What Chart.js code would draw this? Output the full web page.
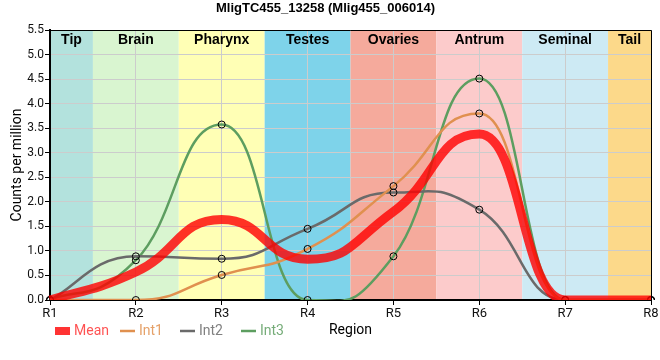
<!DOCTYPE html>
<html>
<head>
<meta charset="utf-8">
<script src="https://cdn.jsdelivr.net/npm/chart.js@4.4.0/dist/chart.umd.min.js"></script>
<style>
  body { margin: 0; background: #fff; }
  #wrap { width: 660px; height: 360px; }
</style>
</head>
<body>
<div id="wrap"><canvas id="regionChart"></canvas></div>
<script>
var regions = ["R1", "R2", "R3", "R4", "R5", "R6", "R7", "R8"];
var meanValues = [0, 0.57, 1.64, 0.83, 1.80, 3.38, 0, 0];
var int1Values = [0, 0, 0.51, 1.04, 2.32, 3.80, 0, 0];
var int2Values = [0, 0.89, 0.84, 1.45, 2.19, 1.84, 0, 0];
var int3Values = [0, 0.81, 3.575, 0, 0.89, 4.51, 0, 0];
var yTicks = [0, 0.5, 1, 1.5, 2, 2.5, 3, 3.5, 4, 4.5, 5, 5.5];

var bandNames = ["Tip", "Brain", "Pharynx", "Testes", "Ovaries", "Antrum", "Seminal", "Tail"];
var bandColors = ["#b3e2dd", "#d9f5d0", "#ffffb5", "#7ed3ea", "#f5aa9c", "#fccbcb", "#cdeaf4", "#fcd98a"];

var seriesColors = {
  mean: "rgba(255,0,0,0.8)",
  int1: "#e0904f",
  int2: "#6a6a6a",
  int3: "#5d9e60"
};

// stretch the monotone bezier handles so the curves get flatter shoulders
var ARM = 1.5;
var longArms = {
  id: "longArms",
  afterDatasetsUpdate: function(chart) {
    chart.data.datasets.forEach(function(ds, i) {
      var meta = chart.getDatasetMeta(i);
      meta.dataset.updateControlPoints(chart.chartArea, "x");
      meta.data.forEach(function(p) {
        if (p.cp1x === undefined) return;
        p.cp1x = p.x - (p.x - p.cp1x) * ARM;
        p.cp1y = p.y - (p.y - p.cp1y) * ARM;
        p.cp2x = p.x - (p.x - p.cp2x) * ARM;
        p.cp2y = p.y - (p.y - p.cp2y) * ARM;
      });
    });
  }
};

// background bands + labels, border, custom legend
var regionBands = {
  id: "regionBands",
  beforeDraw: function(chart) {
    var ctx = chart.ctx, x = chart.scales.x, area = chart.chartArea;
    ctx.save();
    for (var i = 0; i < bandNames.length; i++) {
      var x0 = Math.max(x.getPixelForValue(i - 0.5), area.left);
      var x1 = Math.min(x.getPixelForValue(i + 0.5), area.right);
      ctx.fillStyle = bandColors[i];
      ctx.fillRect(x0, area.top, x1 - x0, area.bottom - area.top);
    }
    ctx.restore();
  },
  afterDatasetsDraw: function(chart) {
    var ctx = chart.ctx, x = chart.scales.x, area = chart.chartArea;
    ctx.save();
    ctx.fillStyle = "#000";
    ctx.font = "bold 14px 'Liberation Sans', Arial, sans-serif";
    ctx.textAlign = "center";
    ctx.textBaseline = "middle";
    for (var i = 0; i < bandNames.length; i++) {
      var x0 = Math.max(x.getPixelForValue(i - 0.5), area.left);
      var x1 = Math.min(x.getPixelForValue(i + 0.5), area.right);
      ctx.fillText(bandNames[i], (x0 + x1) / 2, area.top + 10);
    }
    ctx.strokeStyle = "#000";
    ctx.lineWidth = 1;
    ctx.beginPath();
    ctx.moveTo(area.left, area.top + 0.5);
    ctx.lineTo(area.right + 0.5, area.top + 0.5);
    ctx.lineTo(area.right + 0.5, area.bottom);
    ctx.stroke();

    // legend
    var items = [
      { text: "Mean", color: seriesColors.mean, box: true, x: 55 },
      { text: "Int1", color: seriesColors.int1, box: false, x: 120 },
      { text: "Int2", color: seriesColors.int2, box: false, x: 180 },
      { text: "Int3", color: seriesColors.int3, box: false, x: 241 }
    ];
    var ly = 331;
    ctx.font = "14px Roboto, sans-serif";
    ctx.textAlign = "left";
    items.forEach(function(it) {
      if (it.box) {
        ctx.fillStyle = it.color;
        ctx.fillRect(it.x, ly - 4, 15, 8);
      } else {
        ctx.strokeStyle = it.color;
        ctx.lineWidth = 2.5;
        ctx.beginPath();
        ctx.moveTo(it.x, ly);
        ctx.lineTo(it.x + 15, ly);
        ctx.stroke();
      }
      ctx.globalAlpha = 0.85;
      ctx.fillStyle = it.color;
      ctx.fillText(it.text, it.x + 19, ly);
      ctx.globalAlpha = 1;
    });
    ctx.restore();
  }
};

var pointStyle = {
  pointRadius: 3.5,
  pointBackgroundColor: "rgba(0,0,0,0)",
  pointBorderColor: "#000",
  pointBorderWidth: 1
};

function intSet(label, values, color) {
  return Object.assign({
    label: label,
    data: values,
    borderColor: color,
    borderWidth: 2.5,
    cubicInterpolationMode: "monotone",
    fill: false
  }, pointStyle);
}

var chartCanvas = document.getElementById("regionChart");
var regionChart = new Chart(chartCanvas, {
  type: "line",
  data: {
    labels: regions,
    datasets: [
      {
        label: "Mean",
        data: meanValues,
        borderColor: seriesColors.mean,
        borderWidth: 9,
        pointRadius: 0,
        cubicInterpolationMode: "monotone",
        fill: false,
        order: 0
      },
      intSet("Int1", int1Values, seriesColors.int1),
      intSet("Int2", int2Values, seriesColors.int2),
      intSet("Int3", int3Values, seriesColors.int3)
    ]
  },
  options: {
    responsive: true,
    maintainAspectRatio: false,
    animation: false,
    layout: { padding: { right: 9 } },
    plugins: {
      legend: { display: false },
      tooltip: { enabled: false },
      title: {
        display: true,
        text: "MligTC455_13258 (Mlig455_006014)",
        color: "#000",
        font: { family: "'Liberation Sans', Arial, sans-serif", size: 13, weight: "bold" },
        padding: { top: 1, bottom: 13.4 }
      }
    },
    scales: {
      x: {
        afterFit: function(scale) { scale.height = 60; },
        grid: { color: "#cccccc", tickColor: "#000", tickLength: 5 },
        border: { color: "#000", width: 2 },
        ticks: { color: "#111", font: { family: "Roboto", size: 13 }, padding: 1, maxRotation: 0 },
        title: {
          display: true,
          text: "Region",
          color: "#000",
          font: { family: "Roboto", size: 14 },
          padding: { top: 0, bottom: 21 }
        }
      },
      y: {
        min: 0,
        max: 5.5,
        afterFit: function(scale) { scale.width = 50; },
        afterBuildTicks: function(scale) {
          scale.ticks = yTicks.map(function(v) { return { value: v }; });
        },
        grid: { color: "#cccccc", tickColor: "#000", tickLength: 5 },
        border: { color: "#000", width: 2 },
        ticks: {
          color: "#111",
          font: { family: "Roboto", size: 12 },
          padding: 1,
          callback: function(v) { return Number(v).toFixed(1); }
        },
        title: {
          display: true,
          text: "Counts per million",
          color: "#000",
          font: { family: "Roboto", size: 14 },
          padding: { top: 9, bottom: 0 }
        }
      }
    }
  },
  plugins: [longArms, regionBands]
});
</script>
</body>
</html>
